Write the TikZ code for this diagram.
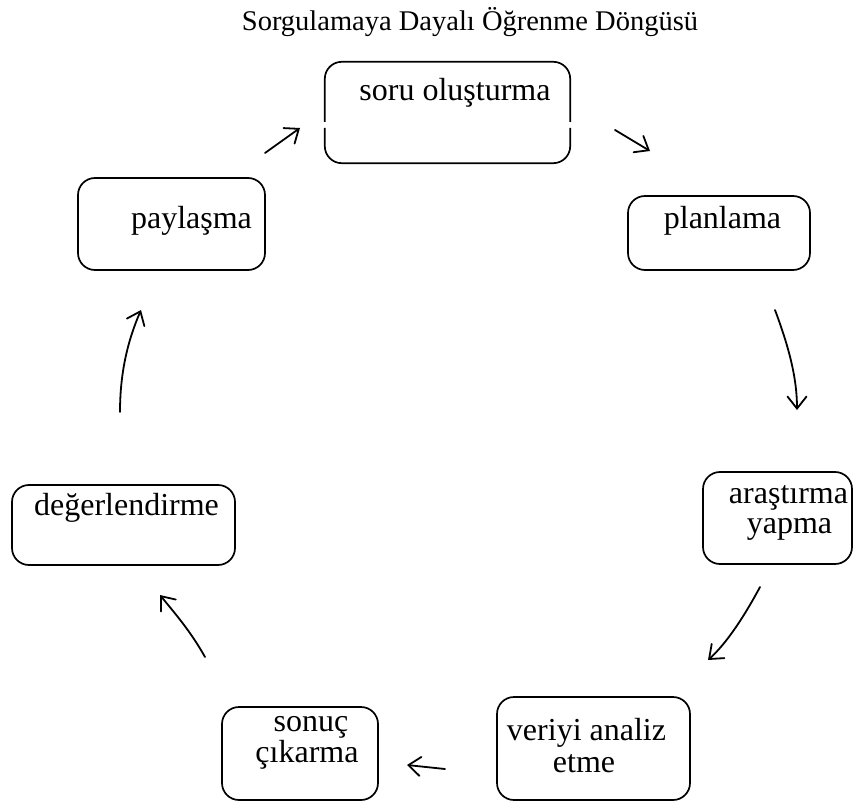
\documentclass[tikz,border=0pt]{standalone}
\usepackage{fontspec}
\setmainfont{Liberation Serif}
\usetikzlibrary{arrows.meta,calc}
\begin{document}
\begin{tikzpicture}[x=1pt,y=-1pt,
  box/.style={draw, line width=1.7pt, rounded corners=17pt, inner sep=0pt},
  lbl/.style={font=\fontsize{32}{33}\selectfont, anchor=base, inner sep=0pt},
  flow/.style={line width=1.8pt, line cap=round,
    -{Straight Barb[length=12pt,width=19pt,line cap=round]}}]
\useasboundingbox (0,0) rectangle (854,802);

% title
\node[font=\fontsize{28.5}{30}\selectfont, anchor=base, inner sep=0pt] (title) at (470,31) {Sorgulamaya Dayalı Öğrenme Döngüsü};

% stage frames
\node[minimum width=245pt, minimum height=101pt, inner sep=0pt] (soru) at (447.5,112.5) {};
\node[box, minimum width=182pt, minimum height=74pt] (plan) at (719,233) {};
\node[box, minimum width=187pt, minimum height=92pt] (pay) at (171.5,224) {};
\node[box, minimum width=149pt, minimum height=92pt] (aras) at (777.5,518) {};
\node[box, minimum width=223pt, minimum height=80pt] (deg) at (123.5,525) {};
\node[box, minimum width=193pt, minimum height=103pt] (veri) at (593.5,748.5) {};
\node[box, minimum width=156pt, minimum height=93pt] (sonuc) at (300,753.5) {};

% the first frame has small breaks in both sides
\draw[line width=1.7pt, rounded corners=17pt]
  ($(soru.west)+(0,9.5)$) -- (soru.north west) -- (soru.north east) -- ($(soru.east)+(0,9.5)$);
\draw[line width=1.7pt, rounded corners=17pt]
  ($(soru.west)+(0,15.5)$) -- (soru.south west) -- (soru.south east) -- ($(soru.east)+(0,15.5)$);

% stage labels
\node[lbl] (tsoru) at (455,101) {soru oluşturma};
\node[lbl] (tplan) at (722.5,229) {planlama};
\node[lbl] (tpay) at (191.5,229) {paylaşma};
\node[lbl] (taras1) at (788.5,503) {araştırma};
\node[lbl] (taras2) at (789.5,533) {yapma};
\node[lbl] (tdeg) at (126.5,515) {değerlendirme};
\node[lbl] (tveri1) at (586.5,740) {veriyi analiz};
\node[lbl] (tveri2) at (584,772) {etme};
\node[lbl] (tson1) at (311,731) {sonuç};
\node[lbl] (tson2) at (307,762) {çıkarma};

% arrow end points
\coordinate (a1s) at (265,153); \coordinate (a1e) at (300,128);
\coordinate (a2s) at (615,130); \coordinate (a2e) at (650,151);
\coordinate (a3s) at (775,310); \coordinate (a3e) at (797,410);
\coordinate (a4s) at (760,587); \coordinate (a4e) at (708,660);
\coordinate (a5s) at (445,769); \coordinate (a5e) at (407,765);
\coordinate (a6s) at (205,657); \coordinate (a6e) at (160,595);
\coordinate (a7s) at (120,412); \coordinate (a7e) at (141,310);

% cycle arrows
\draw[flow] (a1s) -- (a1e);
\draw[flow] (a2s) -- (a2e);
\draw[flow] (a3s) .. controls (790,350) and (797,380) .. (a3e);
\draw[flow] (a4s) .. controls (745,615) and (727,643) .. (a4e);
\draw[flow] (a5s) -- (a5e);
\draw[flow] (a6s) .. controls (190,630) and (172,610) .. (a6e);
\draw[flow] (a7s) .. controls (120,372) and (128,340) .. (a7e);
\end{tikzpicture}
\end{document}
